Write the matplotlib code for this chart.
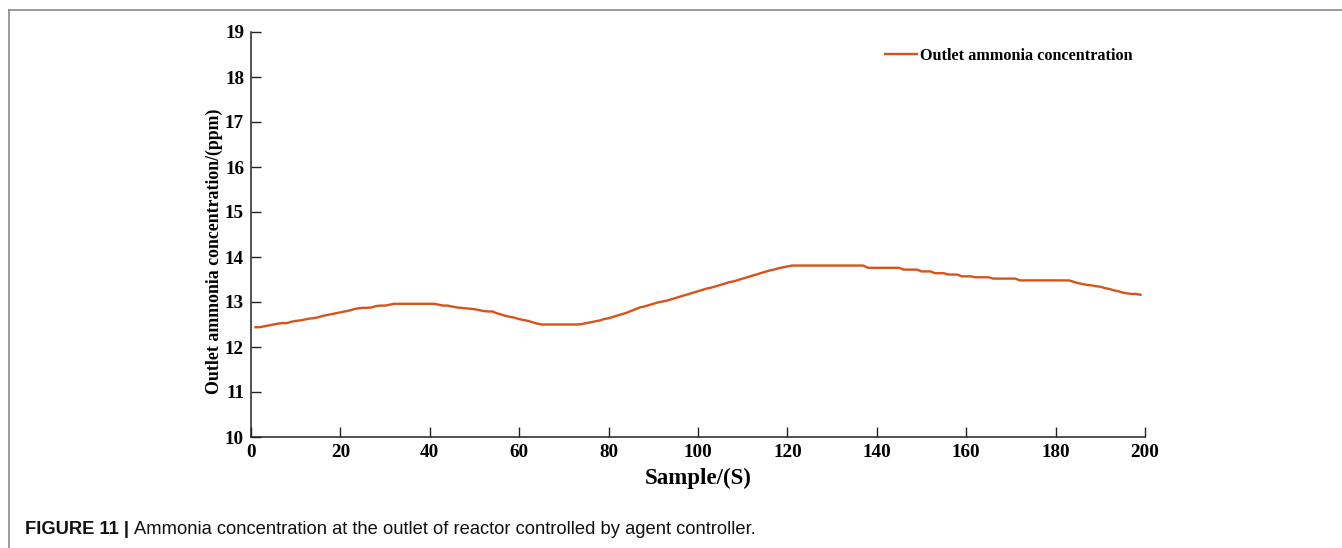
import numpy as np
import matplotlib
matplotlib.use("Agg")
import matplotlib.pyplot as plt
from matplotlib.lines import Line2D

# ---- data ----
samples = list(range(1, 200))
ammonia = [
    12.44, 12.44, 12.46, 12.48, 12.50, 12.52, 12.53, 12.53, 12.56, 12.58,
    12.59, 12.61, 12.63, 12.64, 12.66, 12.69, 12.71, 12.73, 12.75, 12.77,
    12.79, 12.81, 12.84, 12.86, 12.87, 12.87, 12.88, 12.91, 12.92, 12.92,
    12.94, 12.96, 12.96, 12.96, 12.96, 12.96, 12.96, 12.96, 12.96, 12.96,
    12.96, 12.94, 12.92, 12.92, 12.90, 12.88, 12.87, 12.86, 12.85, 12.84,
    12.82, 12.80, 12.79, 12.79, 12.75, 12.72, 12.69, 12.67, 12.65, 12.62,
    12.60, 12.58, 12.55, 12.52, 12.50, 12.50, 12.50, 12.50, 12.50, 12.50,
    12.50, 12.50, 12.50, 12.51, 12.53, 12.55, 12.57, 12.59, 12.62, 12.64,
    12.67, 12.70, 12.73, 12.76, 12.80, 12.84, 12.88, 12.90, 12.93, 12.96,
    12.99, 13.01, 13.03, 13.06, 13.09, 13.12, 13.15, 13.18, 13.21, 13.24,
    13.27, 13.30, 13.32, 13.35, 13.38, 13.41, 13.44, 13.46, 13.49, 13.52,
    13.55, 13.58, 13.61, 13.64, 13.67, 13.70, 13.72, 13.75, 13.77, 13.79,
    13.81, 13.81, 13.81, 13.81, 13.81, 13.81, 13.81, 13.81, 13.81, 13.81,
    13.81, 13.81, 13.81, 13.81, 13.81, 13.81, 13.81, 13.76, 13.76, 13.76,
    13.76, 13.76, 13.76, 13.76, 13.76, 13.72, 13.72, 13.72, 13.72, 13.68,
    13.68, 13.68, 13.64, 13.64, 13.64, 13.61, 13.61, 13.61, 13.57, 13.57,
    13.57, 13.55, 13.55, 13.55, 13.55, 13.52, 13.52, 13.52, 13.52, 13.52,
    13.52, 13.48, 13.48, 13.48, 13.48, 13.48, 13.48, 13.48, 13.48, 13.48,
    13.48, 13.48, 13.48, 13.45, 13.42, 13.40, 13.38, 13.37, 13.35, 13.34,
    13.31, 13.29, 13.26, 13.24, 13.21, 13.19, 13.18, 13.18, 13.16,
]
x_ticks = [0, 20, 40, 60, 80, 100, 120, 140, 160, 180, 200]
y_ticks = [10, 11, 12, 13, 14, 15, 16, 17, 18, 19]
series_label = "Outlet ammonia concentration"
x_label = "Sample/(S)"
y_label = "Outlet ammonia concentration/(ppm)"
caption_bold = "FIGURE 11 | "
caption_text = "Ammonia concentration at the outlet of reactor controlled by agent controller."

W, H, DPI = 1342, 548, 100
fig = plt.figure(figsize=(W / DPI, H / DPI), dpi=DPI)
fig.patch.set_facecolor("white")

serif = ["Liberation Serif", "DejaVu Serif"]
sans = ["Liberation Sans", "DejaVu Sans"]

ax = fig.add_axes([251 / W, 1 - 437 / H, (1145 - 251) / W, (437 - 32) / H])
ax.plot(samples, ammonia, color="#D95319", lw=1.7, label=series_label)
ax.set_xlim(0, 200)
ax.set_ylim(10, 19)
ax.set_xticks(x_ticks)
ax.set_yticks(y_ticks)
for s in ["top", "right"]:
    ax.spines[s].set_visible(False)
for s in ["left", "bottom"]:
    ax.spines[s].set_linewidth(1.1)
    ax.spines[s].set_color("#222222")
ax.tick_params(direction="in", length=7, width=1.0, color="#222222", pad=5)
for lab in ax.get_xticklabels() + ax.get_yticklabels():
    lab.set_fontfamily(serif)
    lab.set_fontweight("bold")
    lab.set_fontsize(13.8)
ax.set_xlabel(x_label, fontfamily=serif, fontweight="bold", fontsize=16.5)
ax.xaxis.set_label_coords(0.5, (437 - 478) / 405, transform=ax.transAxes)
ax.xaxis.label.set_va("center")
ax.set_ylabel(y_label, fontfamily=serif, fontweight="bold", fontsize=12.8)
ax.yaxis.set_label_coords((214 - 251) / 894, (437 - 251) / 405)
ax.yaxis.label.set_va("center")

leg = ax.legend(loc="upper right", frameon=False, handlelength=2.0, handletextpad=0.2,
                borderaxespad=0, borderpad=0,
                prop={"family": serif, "weight": "bold", "size": 11.7})
leg.set_bbox_to_anchor((1133 / W, 1 - 48 / H), transform=fig.transFigure)

# figure frame lines (top and left)
fig.add_artist(Line2D([9 / W, 1.0], [1 - 10 / H, 1 - 10 / H], transform=fig.transFigure,
                      color="#8a8a8a", lw=1.2))
fig.add_artist(Line2D([9 / W, 9 / W], [1 - 10 / H, 0.0], transform=fig.transFigure,
                      color="#8a8a8a", lw=1.2))

# caption
t1 = fig.text(25 / W, 1 - 530 / H, caption_bold, fontfamily=sans, fontweight="bold",
              fontsize=13.25, va="center", ha="left", color="#111111")
fig.canvas.draw()
bb = t1.get_window_extent(renderer=fig.canvas.get_renderer())
fig.text(bb.x1 / W, 1 - 530 / H, caption_text, fontfamily=sans, fontsize=13.25,
         va="center", ha="left", color="#111111")

fig.savefig("out.png", dpi=DPI)
